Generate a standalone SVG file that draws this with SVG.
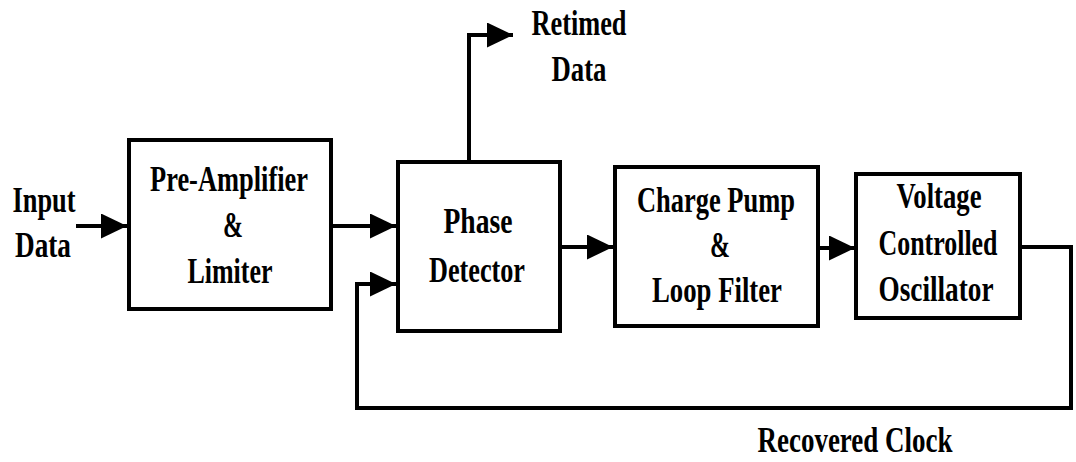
<svg xmlns="http://www.w3.org/2000/svg" width="1076" height="462" viewBox="0 0 1076 462">
<style>
.box{fill:#fff;stroke:#000;stroke-width:4}
.con{fill:none;stroke:#000;stroke-width:4}
text{font-family:"Liberation Serif","Times New Roman",serif;font-weight:bold;font-size:35px;fill:#000;text-anchor:middle}
</style>
<defs>
<marker id="ah" viewBox="0 0 26 25" refX="26" refY="12.5" markerWidth="26" markerHeight="25" markerUnits="userSpaceOnUse" orient="auto">
<path d="M0,0 L26,12.5 L0,25 z" fill="#000"/>
</marker>
</defs>
<rect width="1076" height="462" fill="#fff"/>
<g id="connectors">
<path class="con" d="M76,226 H127" marker-end="url(#ah)"/>
<path class="con" d="M333,226 H396" marker-end="url(#ah)"/>
<path class="con" d="M562,247 H613" marker-end="url(#ah)"/>
<path class="con" d="M820,248 H855" marker-end="url(#ah)"/>
<path class="con" d="M469,160 V35 H513" marker-end="url(#ah)"/>
<path class="con" d="M1022,247 H1071 V408 H357 V284 H396" marker-end="url(#ah)"/>
</g>
<g id="input-label">
<text x="44" y="212" textLength="63" lengthAdjust="spacingAndGlyphs">Input</text>
<text x="43" y="257" textLength="56" lengthAdjust="spacingAndGlyphs">Data</text>
</g>
<g id="preamp">
<rect class="box" x="129" y="140" width="202" height="169"/>
<text x="229" y="191" textLength="158" lengthAdjust="spacingAndGlyphs">Pre-Amplifier</text>
<text x="233" y="237" textLength="20" lengthAdjust="spacingAndGlyphs">&amp;</text>
<text x="230" y="283" textLength="85" lengthAdjust="spacingAndGlyphs">Limiter</text>
</g>
<g id="phase-detector">
<rect class="box" x="398" y="162" width="162" height="169"/>
<text x="478" y="233" textLength="69" lengthAdjust="spacingAndGlyphs">Phase</text>
<text x="477" y="282" textLength="96" lengthAdjust="spacingAndGlyphs">Detector</text>
</g>
<g id="retimed-label">
<text x="579" y="35" textLength="95" lengthAdjust="spacingAndGlyphs">Retimed</text>
<text x="579" y="81" textLength="55" lengthAdjust="spacingAndGlyphs">Data</text>
</g>
<g id="charge-pump">
<rect class="box" x="615" y="167" width="203" height="159"/>
<text x="716" y="212" textLength="158" lengthAdjust="spacingAndGlyphs">Charge Pump</text>
<text x="720" y="257" textLength="20" lengthAdjust="spacingAndGlyphs">&amp;</text>
<text x="717" y="302" textLength="130" lengthAdjust="spacingAndGlyphs">Loop Filter</text>
</g>
<g id="vco">
<rect class="box" x="856" y="174" width="164" height="144"/>
<text x="939" y="208" textLength="85" lengthAdjust="spacingAndGlyphs">Voltage</text>
<text x="938" y="255" textLength="119" lengthAdjust="spacingAndGlyphs">Controlled</text>
<text x="936" y="301" textLength="115" lengthAdjust="spacingAndGlyphs">Oscillator</text>
</g>
<g id="recovered-label">
<text x="855" y="452" textLength="195" lengthAdjust="spacingAndGlyphs">Recovered Clock</text>
</g>
</svg>
